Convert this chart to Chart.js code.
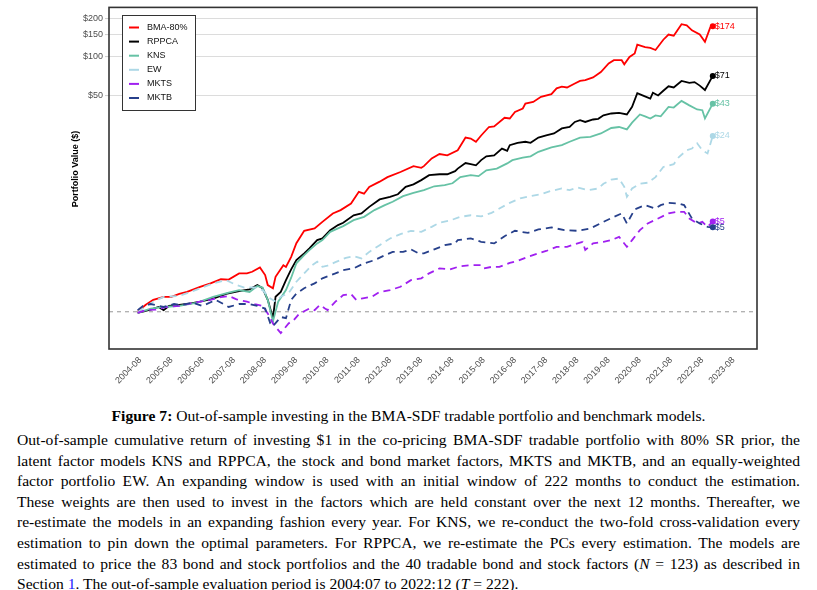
<!DOCTYPE html>
<html>
<head>
<meta charset="utf-8">
<script src="https://cdn.jsdelivr.net/npm/chart.js@4.4.1/dist/chart.umd.min.js"></script>
<style>
  body { margin: 0; background: #fff; width: 817px; height: 590px; overflow: hidden; position: relative; }
  #chart { position: absolute; left: 0; top: 0; }
  .cap { position: absolute; font-family: "Liberation Serif", "Times New Roman", serif; color: #000; }
  #figtitle { top: 406px; left: 0; width: 817px; text-align: center; font-size: 15.6px; line-height: 20px; }
  #figtext { top: 430px; left: 17px; width: 783px; font-size: 15.6px; line-height: 20.6px; }
  #figtext div { text-align: justify; text-align-last: justify; height: 20.6px; }
  #figtext div.last { text-align-last: left; }
  .ref { color: #2020ff; }
</style>
</head>
<body>
<canvas id="chart" width="817" height="400"></canvas>
<div class="cap" id="figtitle"><b>Figure 7:</b> Out-of-sample investing in the BMA-SDF tradable portfolio and benchmark models.</div>
<div class="cap" id="figtext">
  <div>Out-of-sample cumulative return of investing $1 in the co-pricing BMA-SDF tradable portfolio with 80% SR prior, the</div>
  <div>latent factor models KNS and RPPCA, the stock and bond market factors, MKTS and MKTB, and an equally-weighted</div>
  <div>factor portfolio EW. An expanding window is used with an initial window of 222 months to conduct the estimation.</div>
  <div>These weights are then used to invest in the factors which are held constant over the next 12 months. Thereafter, we</div>
  <div>re-estimate the models in an expanding fashion every year. For KNS, we re-conduct the two-fold cross-validation every</div>
  <div>estimation to pin down the optimal parameters. For RPPCA, we re-estimate the PCs every estimation. The models are</div>
  <div>estimated to price the 83 bond and stock portfolios and the 40 tradable bond and stock factors (<i>N</i> = 123) as described in</div>
  <div class="last">Section <span class="ref">1</span>. The out-of-sample evaluation period is 2004:07 to 2022:12 (<i>T</i> = 222).</div>
</div>
<script>
// months counted from 2004-07 (month 0) to 2022-12 (month 221)
const seriesNames = ['BMA-80%', 'RPPCA', 'KNS', 'EW', 'MKTS', 'MKTB'];

const bmaMonths = [0,3,6,10,13,16,19,24,28,32,35,39,42,44,47,49,50,52,53,56,57,59,61,64,68,71,75,78,82,85,87,89,93,96,101,106,109,110,113,116,119,123,126,128,130,132,135,137,141,143,145,148,149,152,155,159,161,163,165,168,170,172,175,178,181,183,186,187,189,191,192,195,197,199,202,204,206,209,211,213,216,218,220,221];
const bmaValues = [1.0,1.13,1.24,1.31,1.31,1.38,1.43,1.57,1.67,1.8,1.79,2.0,2.0,2.06,2.23,1.94,1.62,1.53,1.88,2.32,2.25,2.7,3.45,4.32,4.51,5.08,5.91,6.28,7.07,8.74,8.45,9.56,10.5,11.4,12.5,13.9,13.5,13.9,16.0,17.3,16.9,18.5,23.3,22.9,21.6,24.2,28.2,28.5,33.3,32.9,37,39.4,43.1,44.4,48.7,51.1,56.7,58.4,57.6,61.9,64.8,65.7,69.1,76.1,88.9,94.3,94.3,87.6,100,106.6,125,119.7,118,113.5,136.6,150,147,181,177,162,150,131.5,170,174];

const rppcaMonths = [0,5,8,10,12,16,19,24,29,34,39,43,46,48,50,52,53,55,57,59,61,64,66,69,71,74,77,79,83,86,89,93,97,100,103,106,109,112,116,119,122,123,126,128,130,132,134,137,140,142,143,146,149,151,154,157,160,163,166,168,170,172,175,177,179,182,185,188,190,192,194,197,198,200,202,204,206,209,212,214,216,218,221];
const rppcaValues = [0.98,1.04,1.09,1.03,1.11,1.13,1.15,1.2,1.27,1.38,1.45,1.5,1.62,1.53,1.24,0.89,1.31,1.43,1.77,2.15,2.54,2.87,3.14,3.65,3.76,4.37,4.79,5.0,5.72,5.91,6.66,7.62,7.98,8.36,9.56,10.0,10.8,11.8,12.0,12.0,12.7,13.3,14.7,14.4,14.1,15.5,16.6,16.9,19.1,18.3,20.3,21.2,21.6,21.2,23.3,24.2,25.1,27.5,28.2,30.9,31.9,30.9,32.3,32.7,34.8,36.0,36.4,35.4,40.6,51.9,49.9,47.1,52.4,49.9,54.3,58.9,57.6,64.8,62.6,63.5,59.6,55,71];

const knsMonths = [0,5,10,16,23,29,35,39,43,46,48,50,52,54,57,59,61,64,66,69,71,74,77,79,83,87,91,95,98,102,106,110,114,118,121,124,128,131,134,138,142,144,148,151,154,159,163,166,170,174,178,182,185,188,190,193,195,197,199,201,204,206,209,212,215,217,218,221];
const knsValues = [0.98,1.06,1.09,1.11,1.18,1.31,1.41,1.48,1.43,1.59,1.55,1.24,0.84,1.2,1.48,1.85,2.4,2.78,3.05,3.44,3.65,4.24,4.51,4.7,5.24,5.56,6.28,6.87,7.3,8.08,8.56,9.0,9.66,9.85,10.2,11.4,11.8,11.6,12.9,13.3,14.6,15.5,16.2,16.6,18.0,19.5,20.3,21.6,23.3,23.6,25.1,27.7,28.2,27.0,30.5,35.4,34.2,32.9,34.8,34.2,40.6,40.1,45.2,41.7,38.7,38.2,32.9,43];

const ewMonths = [0,3,6,10,16,23,29,34,38,41,45,48,51,53,55,58,61,64,67,69,71,73,76,80,83,86,89,93,97,101,105,109,113,116,120,124,128,132,136,139,143,147,151,155,159,163,166,169,173,177,179,182,185,187,188,190,193,196,199,202,206,208,211,213,215,217,219,221];
const ewValues = [1.0,1.09,1.2,1.31,1.33,1.5,1.67,1.77,1.62,1.55,1.55,1.48,1.27,1.2,1.31,1.4,1.72,2.0,2.32,2.47,2.25,2.3,2.45,2.65,2.73,2.62,2.95,3.33,3.76,4.07,4.32,4.24,4.64,5.0,5.2,5.56,5.72,5.6,5.97,6.46,7.15,7.76,8.08,8.36,8.9,9.28,9.0,9.46,9.0,9.28,10.1,10.9,11.1,9.56,7.98,9.28,10.1,10.3,11.4,13.7,14.4,16.4,18.5,19.1,21,18.5,17.5,24];

const mktsMonths = [0,3,7,11,16,20,24,28,32,35,38,42,45,48,50,52,53,55,58,60,62,66,68,70,72,73,76,79,82,84,86,90,93,97,101,105,109,112,116,120,124,128,132,133,136,139,143,146,150,154,157,161,165,168,171,172,175,179,182,185,188,190,193,196,200,204,207,210,212,215,217,219,221];
const mktsValues = [0.98,1.03,1.04,1.09,1.11,1.16,1.2,1.24,1.3,1.33,1.25,1.2,1.15,1.11,0.97,0.81,0.76,0.68,0.81,0.86,0.96,1.06,1.03,1.13,1.06,1.03,1.2,1.35,1.38,1.24,1.27,1.31,1.43,1.48,1.57,1.77,1.83,2.0,2.19,2.15,2.28,2.32,2.32,2.19,2.25,2.25,2.42,2.51,2.7,2.87,3.0,3.23,3.23,3.39,3.54,3.05,3.44,3.54,3.65,3.87,3.23,3.65,4.37,4.93,5.4,5.91,6.09,6.09,5.4,4.93,5.08,4.64,5.1];

const mktbMonths = [0,2,5,10,14,17,21,25,30,33,35,39,43,46,49,51,52,55,57,59,61,64,68,71,76,79,83,87,91,95,98,102,105,108,110,114,118,122,123,128,132,137,141,145,150,154,159,164,169,174,179,183,186,188,191,195,199,201,204,208,210,213,216,219,221];
const mktbValues = [1.03,1.11,1.15,1.09,1.15,1.13,1.18,1.11,1.24,1.15,1.09,1.15,1.15,1.11,1.06,0.81,0.77,0.91,0.89,1.24,1.39,1.53,1.67,1.83,2.0,2.12,2.19,2.4,2.54,2.78,2.95,2.95,3.09,2.87,2.87,3.09,3.33,3.44,3.65,3.76,3.54,3.44,3.92,4.32,4.16,4.43,4.59,4.37,4.32,4.51,5.08,5.56,5.91,4.93,6.36,6.87,6.46,6.87,7.15,7.07,6.87,5.4,4.93,4.64,4.6];

const xTickMonths = [1,13,25,37,49,61,73,85,97,109,121,133,145,157,169,181,193,205,217,229];
const xTickLabels = ['2004-08','2005-08','2006-08','2007-08','2008-08','2009-08','2010-08','2011-08','2012-08','2013-08','2014-08','2015-08','2016-08','2017-08','2018-08','2019-08','2020-08','2021-08','2022-08','2023-08'];
const yTickValues = [50, 100, 150, 200];
const yTickLabels = ['$50', '$100', '$150', '$200'];
const baselineValue = 1;

// styles
const seriesColors = ['#ff0000', '#000000', '#66c2a5', '#add8e6', '#a020f0', '#27408b'];
const seriesDashed = [false, false, false, true, true, true];
const FONT = '"Liberation Sans", Arial, sans-serif';

const monthSets = [bmaMonths, rppcaMonths, knsMonths, ewMonths, mktsMonths, mktbMonths];
const valueSets = [bmaValues, rppcaValues, knsValues, ewValues, mktsValues, mktbValues];

const datasets = seriesNames.map((name, i) => ({
  label: name,
  data: monthSets[i].map((m, k) => ({ x: m, y: valueSets[i][k] })),
  borderColor: seriesColors[i],
  backgroundColor: seriesColors[i],
  borderWidth: 1.8,
  borderDash: seriesDashed[i] ? [7, 5] : [],
  pointRadius: c => c.dataIndex === c.dataset.data.length - 1 ? 3 : 0,
  pointBorderWidth: 0,
  pointHoverRadius: 0,
  tension: 0,
  order: seriesNames.length - i
}));

const decor = {
  id: 'decor',
  beforeDatasetsDraw(chart) {
    const { ctx, chartArea: a, scales: { y } } = chart;
    const py = y.getPixelForValue(baselineValue);
    ctx.save();
    ctx.strokeStyle = '#a0a0a0';
    ctx.lineWidth = 1.1;
    ctx.setLineDash([4, 4]);
    ctx.beginPath();
    ctx.moveTo(a.left, py);
    ctx.lineTo(a.right, py);
    ctx.stroke();
    ctx.restore();
  },
  afterDatasetsDraw(chart) {
    const ctx = chart.ctx;
    ctx.save();
    ctx.font = '9px ' + FONT;
    ctx.textBaseline = 'middle';
    chart.data.datasets.forEach((ds, i) => {
      const meta = chart.getDatasetMeta(i);
      const pt = meta.data[meta.data.length - 1];
      ctx.fillStyle = ds.borderColor;
      ctx.fillText('$' + Math.round(ds.data[ds.data.length - 1].y), pt.x + 2, pt.y);
    });
    ctx.restore();
  },
  afterDraw(chart) {
    const { ctx, chartArea: a } = chart;
    ctx.save();
    // panel frame
    ctx.strokeStyle = '#333';
    ctx.lineWidth = 1.6;
    ctx.strokeRect(a.left, a.top, a.right - a.left, a.bottom - a.top);
    // y axis title
    ctx.fillStyle = '#000';
    ctx.font = 'bold 9px ' + FONT;
    ctx.textAlign = 'center';
    ctx.textBaseline = 'middle';
    ctx.translate(76, 169);
    ctx.rotate(-Math.PI / 2);
    ctx.fillText('Portfolio Value ($)', 0, 0);
    ctx.restore();
    // legend
    ctx.save();
    ctx.fillStyle = '#fff';
    ctx.strokeStyle = '#333';
    ctx.lineWidth = 1;
    ctx.fillRect(122.5, 15.5, 73, 95);
    ctx.strokeRect(122.5, 15.5, 73, 95);
    ctx.font = '9px ' + FONT;
    ctx.textBaseline = 'middle';
    seriesNames.forEach((name, i) => {
      const yy = 27.5 + i * 14.1;
      ctx.strokeStyle = seriesColors[i];
      ctx.lineWidth = 2;
      ctx.beginPath();
      ctx.moveTo(129, yy);
      ctx.lineTo(139, yy);
      ctx.stroke();
      ctx.fillStyle = '#111';
      ctx.fillText(name, 147, yy);
    });
    ctx.restore();
  }
};

new Chart(document.getElementById('chart'), {
  type: 'line',
  data: { datasets },
  plugins: [decor],
  options: {
    responsive: false,
    animation: false,
    devicePixelRatio: 1,
    layout: { padding: { left: 0, right: 60, top: 7, bottom: 0 } },
    plugins: { legend: { display: false }, tooltip: { enabled: false } },
    scales: {
      x: {
        type: 'linear',
        min: -11,
        max: 238,
        grid: { display: false, drawTicks: false },
        border: { display: false },
        afterFit: s => { s.height = 51; },
        afterBuildTicks: s => { s.ticks = xTickMonths.map(v => ({ value: v })); },
        ticks: {
          autoSkip: false,
          minRotation: 45,
          maxRotation: 45,
          padding: 6,
          color: '#4d4d4d',
          font: { family: FONT, size: 9 },
          callback: v => xTickLabels[xTickMonths.indexOf(v)]
        }
      },
      y: {
        type: 'logarithmic',
        min: 0.51,
        max: 245,
        grid: { color: '#dcdcdc', lineWidth: 1.1, tickColor: '#cfcfcf', tickLength: 4 },
        border: { display: false },
        afterFit: s => { s.width = 109; },
        afterBuildTicks: s => { s.ticks = yTickValues.map(v => ({ value: v })); },
        ticks: {
          padding: 2,
          color: '#4d4d4d',
          font: { family: FONT, size: 9 },
          callback: v => yTickLabels[yTickValues.indexOf(v)]
        }
      }
    }
  }
});
</script>
</body>
</html>
